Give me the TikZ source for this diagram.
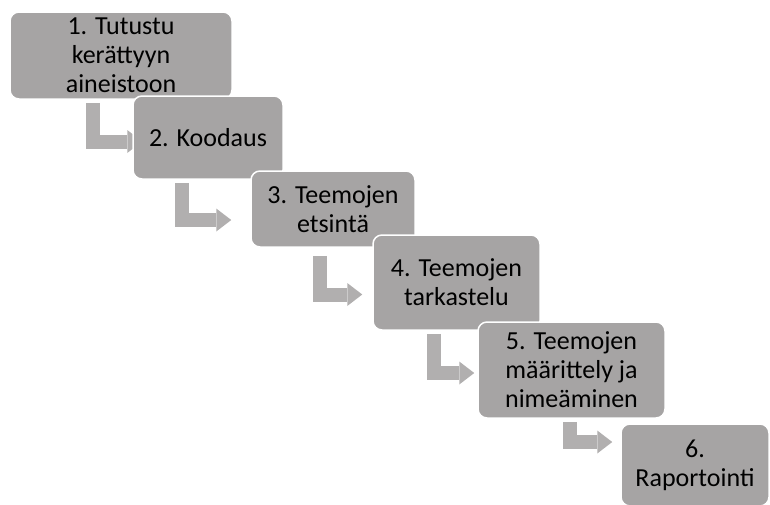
\documentclass[tikz,border=0pt]{standalone}
\usepackage{fontspec}
\setmainfont{Carlito}
\usetikzlibrary{arrows.meta,calc,backgrounds}
\definecolor{boxgray}{RGB}{166,164,164}
\definecolor{arrowgray}{RGB}{177,175,175}
\begin{document}
\begin{tikzpicture}[x=1pt,y=-1pt,
  stepbox/.style={draw=white, line width=1.5pt, fill=boxgray, rounded corners=9pt,
    align=center, inner sep=0pt, font=\fontsize{26pt}{29pt}\selectfont},
  steparrow/.style={draw=arrowgray, line width=14pt, line join=miter,
    -{Triangle[width=23pt,length=15pt,line width=0pt]}}]
\useasboundingbox (0,0) rectangle (770,504);

\node[stepbox, minimum width=222pt, minimum height=87pt] (tutustu) at (121,55.5) {1. Tutustu\\kerättyyn\\aineistoon};
\node[stepbox, minimum width=150pt, minimum height=83pt] (koodaus) at (208,137.5) {2. Koodaus};
\node[stepbox, minimum width=164pt, minimum height=76pt] (etsinta) at (333,209) {3. Teemojen\\etsintä};
\node[stepbox, minimum width=167pt, minimum height=95pt] (tarkastelu) at (456.5,282.5) {4. Teemojen\\tarkastelu};
\node[stepbox, minimum width=187pt, minimum height=96pt] (maarittely) at (571.5,370) {5. Teemojen\\määrittely ja\\nimeäminen};
\node[stepbox, minimum width=148pt, minimum height=82pt] (raportointi) at (695,465) {6.\\Raportointi};

% bent arrows behind the boxes
\begin{scope}[on background layer]
\draw[steparrow] ($(tutustu.south west)+(83.5,3)$) |- ($(koodaus.west)+(10,4)$);
\draw[steparrow] ($(koodaus.south west)+(49.5,3)$) |- ($(etsinta.west)+(-19,11)$);
\draw[steparrow] ($(etsinta.south west)+(70,8)$) |- ($(tarkastelu.west)+(-10,12)$);
\draw[steparrow] ($(tarkastelu.south west)+(61.5,3)$) |- ($(maarittely.west)+(-3,3)$);
\draw[steparrow] ($(maarittely.south west)+(92.5,3)$) |- ($(raportointi.west)+(-8,-23)$);
\end{scope}

\end{tikzpicture}
\end{document}
